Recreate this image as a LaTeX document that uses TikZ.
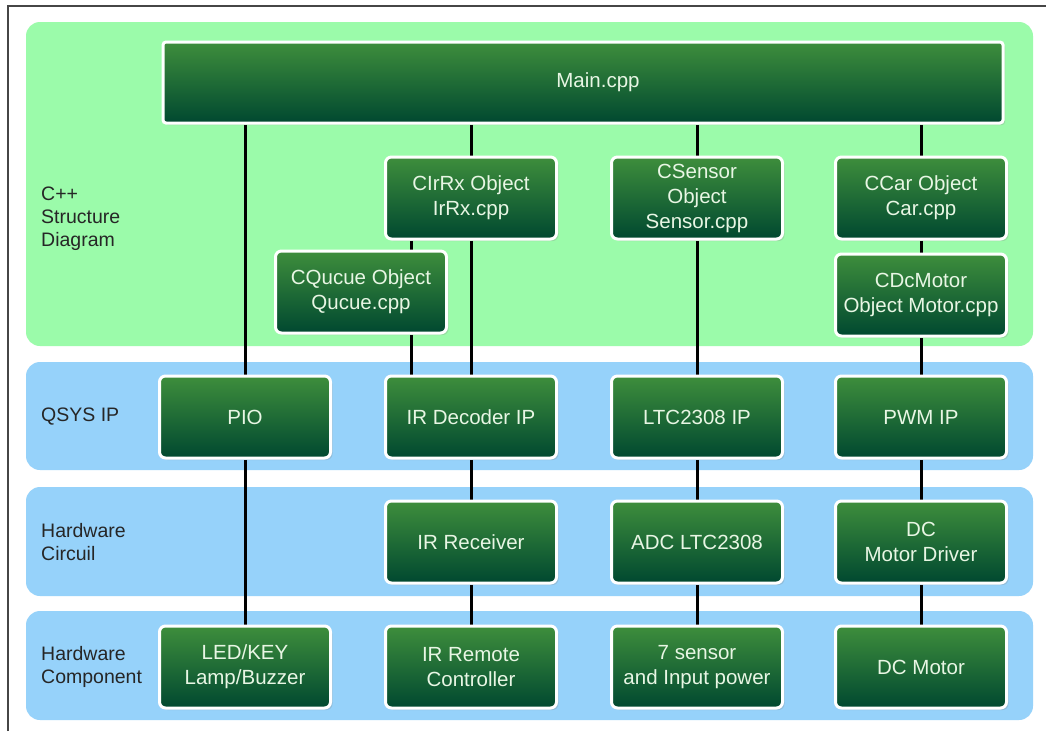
\documentclass[tikz,border=0pt]{standalone}
\usepackage{fontspec}
\setmainfont{Liberation Sans}
\usetikzlibrary{shadows}
\definecolor{panelgreen}{RGB}{155,251,170}
\definecolor{panelblue}{RGB}{150,210,250}
\definecolor{boxtop}{RGB}{62,142,60}
\definecolor{boxbot}{RGB}{0,72,48}
\definecolor{boxtext}{RGB}{232,246,228}
\definecolor{framegray}{RGB}{70,70,70}
\pgfdeclarelayer{back}
\pgfdeclarelayer{mid}
\pgfsetlayers{back,mid,main}
\begin{document}
\begin{tikzpicture}[x=1pt,y=-1pt,
  panel/.style={rounded corners=14pt},
  blk/.style={draw=white, line width=3pt, rounded corners=6pt,
    top color=boxtop, bottom color=boxbot, text=boxtext, align=center,
    minimum width=171pt, minimum height=82pt, inner sep=0pt,
    font=\fontsize{20.5}{25}\selectfont,
    drop shadow={opacity=0.25, shadow xshift=2pt, shadow yshift=-2pt}},
  lbl/.style={anchor=west, align=left, inner sep=0pt,
    font=\fontsize{19.5}{23}\selectfont, text=black!85},
  link/.style={line width=3pt, black}]
\useasboundingbox (0,0) rectangle (1046,731);

\begin{pgfonlayer}{back}
  \fill[white] (0,0) rectangle (1046,731);
  \draw[framegray, line width=1.5pt] (8,731) -- (8,6) -- (1046,6);
  \fill[panelgreen, panel] (26,22) rectangle (1033,346);
  \fill[panelblue, panel] (26,362) rectangle (1033,470);
  \fill[panelblue, panel] (26,487) rectangle (1033,596);
  \fill[panelblue, panel] (26,611) rectangle (1033,720);
\end{pgfonlayer}

% left labels
\node[lbl] (l1) at (41,219) {C++\\Structure\\Diagram};
\node[lbl] (l2) at (41,417) {QSYS IP};
\node[lbl] (l3) at (41,542) {Hardware\\Circuil};
\node[lbl] (l4) at (41,667) {Hardware\\Component};

% main
\node[blk, minimum width=840pt, minimum height=81pt, rounded corners=3pt] (main) at (583,82.5) {\hspace*{30pt}Main.cpp};

% C++ objects
\node[blk] (irrx) at (471,198) {CIrRx Object\\IrRx.cpp};
\node[blk] (sensor) at (697,198) {CSensor\\Object\\Sensor.cpp};
\node[blk] (car) at (921,198) {CCar Object\\Car.cpp};
\node[blk] (qucue) at (361,292) {CQucue Object\\Qucue.cpp};
\node[blk] (motor) at (921,295) {CDcMotor\\Object Motor.cpp};

% QSYS IP
\node[blk] (pio) at (245,417) {PIO};
\node[blk] (irdec) at (471,417) {IR Decoder IP};
\node[blk] (ltcip) at (697,417) {LTC2308 IP};
\node[blk] (pwm) at (921,417) {PWM IP};

% Hardware circuit
\node[blk] (irrecv) at (471,542) {IR Receiver};
\node[blk] (adc) at (697,542) {ADC LTC2308};
\node[blk] (driver) at (921,542) {DC\\Motor Driver};

% Hardware component
\node[blk] (led) at (245,667) {LED/KEY\\Lamp/Buzzer};
\node[blk] (remote) at (471,667) {IR Remote\\Controller};
\node[blk] (sens7) at (697,667) {7 sensor\\and Input power};
\node[blk] (dcmotor) at (921,667) {DC Motor};

\coordinate (qx) at (411,0);
\begin{pgfonlayer}{mid}
  \draw[link] (main.south -| pio.north) -- (pio.north);
  \draw[link] (pio.south) -- (led.north);
  \draw[link] (main.south -| irrx.north) -- (irrx.north);
  \draw[link] (irrx.south) -- (irdec.north);
  \draw[link] (irdec.south) -- (irrecv.north);
  \draw[link] (irrecv.south) -- (remote.north);
  \draw[link] (irrx.south -| qx) -- (qucue.north -| qx);
  \draw[link] (qucue.south -| qx) -- (irdec.north -| qx);
  \draw[link] (main.south -| sensor.north) -- (sensor.north);
  \draw[link] (sensor.south) -- (ltcip.north);
  \draw[link] (ltcip.south) -- (adc.north);
  \draw[link] (adc.south) -- (sens7.north);
  \draw[link] (main.south -| car.north) -- (car.north);
  \draw[link] (car.south) -- (motor.north);
  \draw[link] (motor.south) -- (pwm.north);
  \draw[link] (pwm.south) -- (driver.north);
  \draw[link] (driver.south) -- (dcmotor.north);
\end{pgfonlayer}
\end{tikzpicture}
\end{document}
